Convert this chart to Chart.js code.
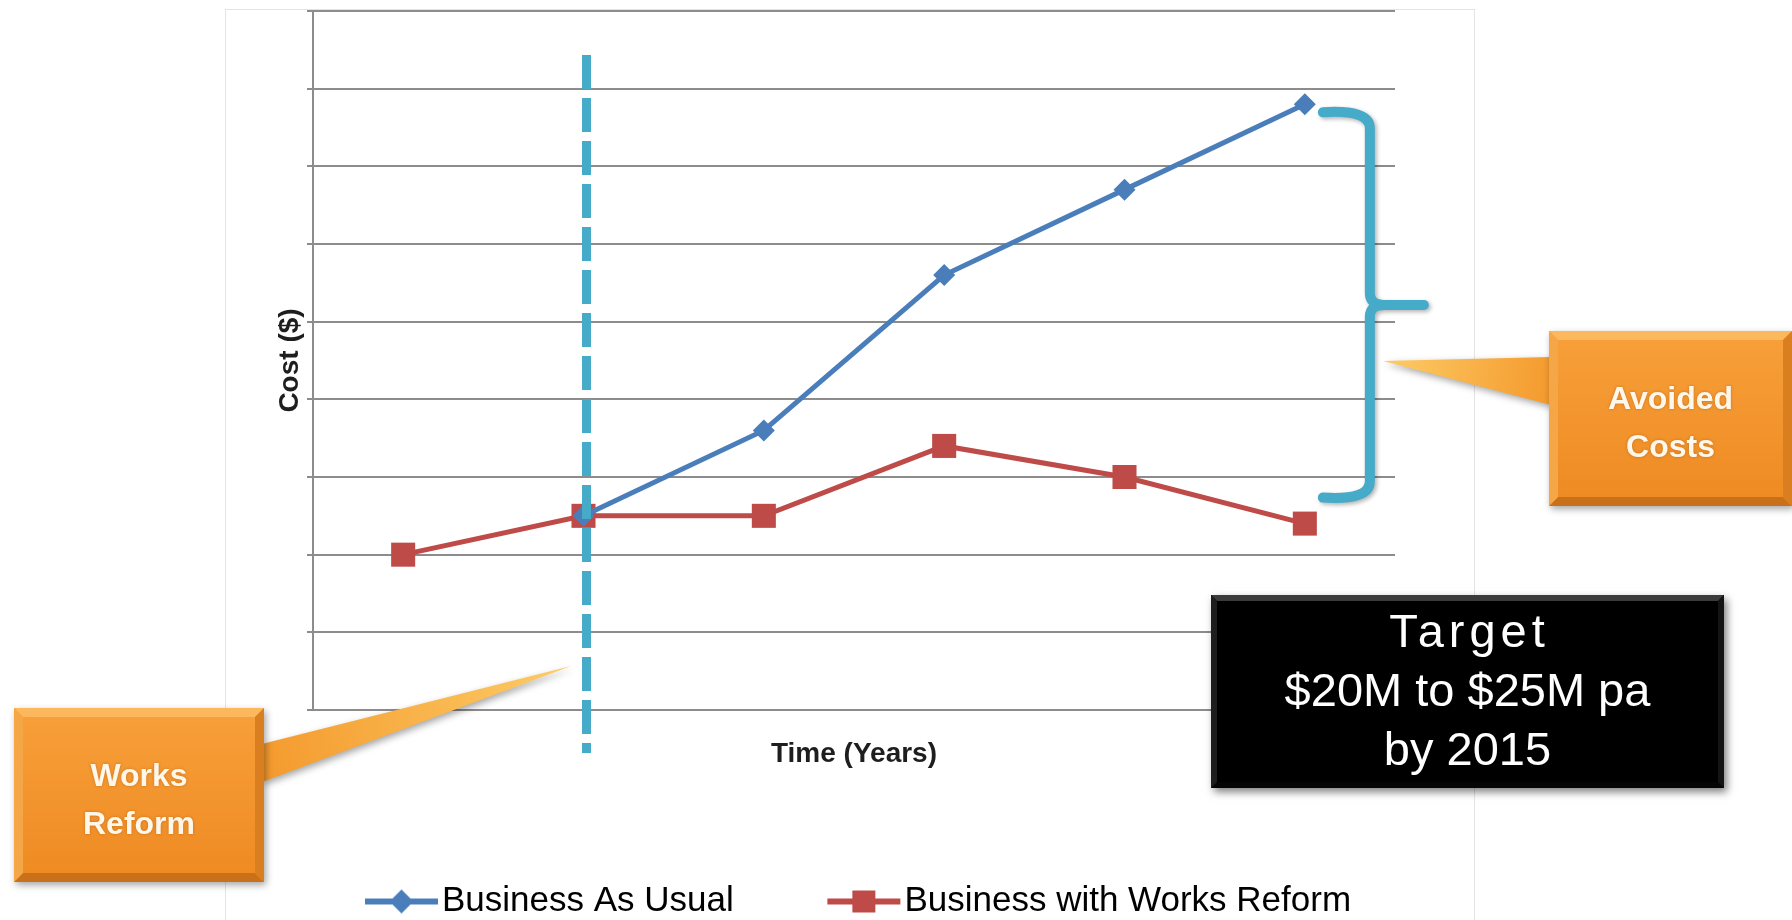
<!DOCTYPE html>
<html>
<head>
<meta charset="utf-8">
<title>Works Reform - Avoided Costs</title>
<script src="https://cdn.jsdelivr.net/npm/chart.js@4.4.1/dist/chart.umd.min.js"></script>
<style>
  html, body { margin: 0; padding: 0; background: #fff; overflow: hidden; }
  #wrap { position: relative; width: 1792px; height: 929px; }
</style>
</head>
<body>
<div id="wrap"><canvas id="costChart"></canvas></div>
<script>
// chart values
const years = ["Year 1", "Year 2", "Year 3", "Year 4", "Year 5", "Year 6"]
const businessAsUsual = [null, 2.5, 3.6, 5.6, 6.7, 7.8]
const withWorksReform = [2.0, 2.5, 2.5, 3.4, 3.0, 2.4]
const costMin = 0
const costMax = 9
const costStep = 1
const reformYear = 1 // category where works reform kicks in

const seriesNames = ["Business As Usual", "Business with Works Reform"]
const seriesColors = ["#4a7ebb", "#be4b48"]
const targetLines = ["Target", "$20M to $25M pa", "by 2015"]

const FONT = '"Liberation Sans", Arial, sans-serif'
const CYAN = "#45abc8"

// legend icon: line with marker, drawn on the right part of a wider image
function legendIcon(color, shape) {
  const c = document.createElement("canvas")
  c.width = 172
  c.height = 30
  const g = c.getContext("2d")
  g.strokeStyle = color
  g.lineWidth = 6
  g.beginPath()
  g.moveTo(98, 15)
  g.lineTo(171, 15)
  g.stroke()
  g.fillStyle = color
  g.beginPath()
  if (shape === "diamond") {
    g.moveTo(134.5, 3)
    g.lineTo(146.5, 15)
    g.lineTo(134.5, 27)
    g.lineTo(122.5, 15)
  } else {
    g.rect(123, 4, 23, 22)
  }
  g.closePath()
  g.fill()
  return c
}
const legendIcons = [legendIcon(seriesColors[0], "diamond"), legendIcon(seriesColors[1], "square")]

function poly(ctx, pts, color) {
  ctx.fillStyle = color
  ctx.beginPath()
  ctx.moveTo(pts[0][0], pts[0][1])
  for (let i = 1; i < pts.length; i++) ctx.lineTo(pts[i][0], pts[i][1])
  ctx.closePath()
  ctx.fill()
}

function bevelBox(ctx, x, y, w, h, b, cols) {
  poly(ctx, [[x, y], [x + w, y], [x + w - b, y + b], [x + b, y + b]], cols.top)
  poly(ctx, [[x, y + h], [x + w, y + h], [x + w - b, y + h - b], [x + b, y + h - b]], cols.bottom)
  poly(ctx, [[x, y], [x + b, y + b], [x + b, y + h - b], [x, y + h]], cols.left)
  poly(ctx, [[x + w, y], [x + w - b, y + b], [x + w - b, y + h - b], [x + w, y + h]], cols.right)
}

// orange callouts
const callouts = [
  { lines: ["Works", "Reform"], box: [14, 708, 250, 174], tip: [571, 666], base: [[262, 744], [262, 782]] },
  { lines: ["Avoided", "Costs"], box: [1549, 331, 243, 175], tip: [1383, 361], base: [[1551, 357], [1551, 405]] },
]
const targetBox = [1211, 595, 513, 193]

function drawCallout(ctx, c) {
  const [x, y, w, h] = c.box
  ctx.save()
  ctx.shadowColor = "rgba(0,0,0,0.35)"
  ctx.shadowBlur = 7
  ctx.shadowOffsetX = 2
  ctx.shadowOffsetY = 3
  const pg = ctx.createLinearGradient(c.tip[0], c.tip[1], c.base[0][0], (c.base[0][1] + c.base[1][1]) / 2)
  pg.addColorStop(0, "#fdcc66")
  pg.addColorStop(1, "#f49a2e")
  poly(ctx, [c.tip, c.base[0], c.base[1]], pg)
  const bg = ctx.createLinearGradient(0, y, 0, y + h)
  bg.addColorStop(0, "#f8a03a")
  bg.addColorStop(1, "#ee8a22")
  ctx.fillStyle = bg
  ctx.fillRect(x, y, w, h)
  ctx.restore()
  bevelBox(ctx, x, y, w, h, 9, { top: "#fbb85c", bottom: "#c9701a", left: "#f5a646", right: "#d97f20" })
  ctx.save()
  ctx.fillStyle = "#fff7ea"
  ctx.font = "bold 32px " + FONT
  ctx.textAlign = "center"
  ctx.textBaseline = "alphabetic"
  ctx.shadowColor = "rgba(120,50,0,0.35)"
  ctx.shadowBlur = 3
  c.lines.forEach((t, i) => ctx.fillText(t, x + w / 2, y + 78 + i * 48))
  ctx.restore()
}

function drawTarget(ctx) {
  const [x, y, w, h] = targetBox
  ctx.save()
  ctx.shadowColor = "rgba(0,0,0,0.5)"
  ctx.shadowBlur = 8
  ctx.shadowOffsetX = 3
  ctx.shadowOffsetY = 4
  ctx.fillStyle = "#000"
  ctx.fillRect(x, y, w, h)
  ctx.restore()
  bevelBox(ctx, x, y, w, h, 6, { top: "#3b3b3b", bottom: "#050505", left: "#1e1e1e", right: "#141414" })
  ctx.save()
  ctx.fillStyle = "#fff"
  ctx.font = "47px " + FONT
  ctx.textAlign = "center"
  ctx.textBaseline = "alphabetic"
  targetLines.forEach((t, i) => {
    ctx.letterSpacing = i === 0 ? "5px" : "0px"
    ctx.fillText(t, x + w / 2 + (i === 0 ? 2 : 0), y + 52 + i * 59)
  })
  ctx.restore()
}

const panelPlugin = {
  id: "panel",
  beforeDraw(chart) {
    const { ctx } = chart
    ctx.save()
    ctx.fillStyle = "#fff"
    ctx.fillRect(0, 0, chart.width, chart.height)
    ctx.strokeStyle = "#e4e4e4"
    ctx.lineWidth = 1
    ctx.strokeRect(225.5, 9.5, 1249, 960)
    ctx.restore()
  },
}

const annotationPlugin = {
  id: "annotations",
  afterDatasetsDraw(chart) {
    const { ctx, chartArea, scales: { x, y } } = chart
    // dashed "works reform" line
    const rx = x.getPixelForValue(reformYear) + 3
    ctx.save()
    ctx.strokeStyle = CYAN
    ctx.lineWidth = 9
    ctx.setLineDash([34, 9])
    ctx.beginPath()
    ctx.moveTo(rx, chartArea.top + 44)
    ctx.lineTo(rx, chartArea.bottom + 43)
    ctx.stroke()
    ctx.restore()

    // brace spanning the gap at the last year
    const last = years.length - 1
    const bx = x.getPixelForValue(last) + 65
    const top = y.getPixelForValue(businessAsUsual[last]) + 8
    const bot = y.getPixelForValue(withWorksReform[last]) - 26
    const mid = (top + bot) / 2
    ctx.save()
    ctx.strokeStyle = CYAN
    ctx.lineWidth = 10
    ctx.lineCap = "round"
    ctx.lineJoin = "round"
    ctx.shadowColor = "rgba(0,0,0,0.3)"
    ctx.shadowBlur = 4
    ctx.shadowOffsetX = 2
    ctx.shadowOffsetY = 2
    ctx.beginPath()
    ctx.moveTo(bx - 47, top)
    ctx.quadraticCurveTo(bx, top - 3, bx, top + 16)
    ctx.lineTo(bx, mid - 12)
    ctx.quadraticCurveTo(bx, mid, bx + 14, mid)
    ctx.lineTo(bx + 54, mid)
    ctx.moveTo(bx + 14, mid)
    ctx.quadraticCurveTo(bx, mid, bx, mid + 12)
    ctx.lineTo(bx, bot - 16)
    ctx.quadraticCurveTo(bx, bot + 3, bx - 47, bot)
    ctx.stroke()
    ctx.restore()
  },
  afterDraw(chart) {
    const { ctx } = chart
    callouts.forEach((c) => drawCallout(ctx, c))
    drawTarget(ctx)
  },
}

const ctx = document.getElementById("costChart").getContext("2d")

new Chart(ctx, {
  type: "line",
  data: {
    labels: years,
    datasets: [
      {
        label: seriesNames[0],
        data: businessAsUsual,
        borderColor: seriesColors[0],
        backgroundColor: seriesColors[0],
        borderWidth: 5,
        pointStyle: "rectRot",
        pointRadius: 11,
        pointBorderWidth: 0,
        tension: 0,
      },
      {
        label: seriesNames[1],
        data: withWorksReform,
        borderColor: seriesColors[1],
        backgroundColor: seriesColors[1],
        borderWidth: 5,
        pointStyle: "rect",
        pointRadius: 17,
        pointBorderWidth: 0,
        tension: 0,
      },
    ],
  },
  options: {
    responsive: true,
    maintainAspectRatio: false,
    animation: false,
    layout: { autoPadding: false, padding: { left: 271.4, right: 397, top: 11, bottom: 0 } },
    scales: {
      x: {
        offset: true,
        grid: { display: false, drawTicks: false },
        border: { display: true, color: "#8c8c8c", width: 2 },
        ticks: { display: false },
        title: {
          display: true,
          text: "Time (Years)",
          color: "#1e1e1e",
          font: { family: FONT, size: 28, weight: "bold" },
          padding: { top: 27, bottom: 103.4 },
        },
      },
      y: {
        min: costMin,
        max: costMax,
        ticks: { display: false, stepSize: costStep },
        grid: { color: "#8c8c8c", lineWidth: 2, drawTicks: true, tickLength: 6, tickColor: "#8c8c8c" },
        border: { display: true, color: "#8c8c8c", width: 2 },
        title: {
          display: true,
          text: "Cost ($)",
          color: "#1e1e1e",
          font: { family: FONT, size: 28, weight: "bold" },
          padding: { top: 2, bottom: 0 },
        },
      },
    },
    plugins: {
      legend: {
        position: "bottom",
        align: "start",
        labels: {
          usePointStyle: true,
          pointStyleWidth: 143.1,
          padding: 10,
          color: "#262626",
          font: { family: FONT, size: 35 },
          generateLabels: (chart) =>
            chart.data.datasets.map((ds, i) => ({
              text: ds.label,
              pointStyle: legendIcons[i],
              fillStyle: ds.borderColor,
              strokeStyle: ds.borderColor,
              lineWidth: 0,
              hidden: false,
              datasetIndex: i,
            })),
        },
      },
      tooltip: { enabled: false },
    },
  },
  plugins: [panelPlugin, annotationPlugin],
})
</script>
</body>
</html>
